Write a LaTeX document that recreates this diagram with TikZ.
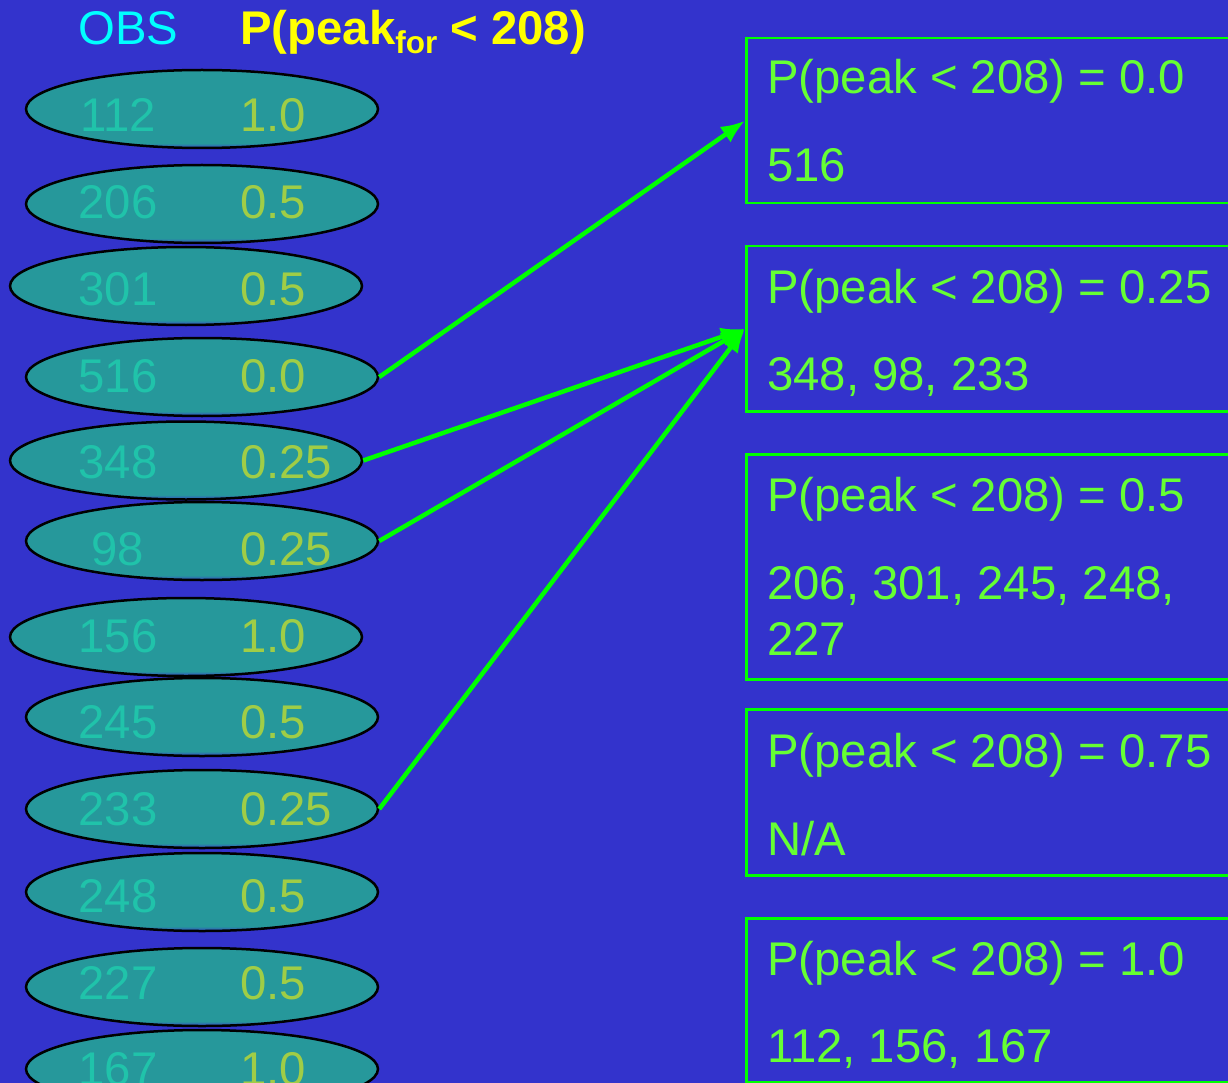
\documentclass[tikz,border=0pt]{standalone}
\usepackage{fontspec}
\setmainfont{Liberation Sans}
\usetikzlibrary{arrows.meta,shapes.geometric}

\definecolor{slide}{RGB}{51,51,204}
\definecolor{ovteal}{RGB}{38,152,155}
\definecolor{ovblue}{RGB}{52,70,200}
\definecolor{obsnum}{RGB}{32,195,170}
\definecolor{probnum}{RGB}{160,205,70}
\definecolor{boxline}{RGB}{0,255,0}
\definecolor{boxtext}{RGB}{102,255,51}
\definecolor{arrowgreen}{RGB}{0,255,0}
\definecolor{headyellow}{RGB}{255,255,0}
\definecolor{headcyan}{RGB}{0,255,255}

% oval fill: teal body with a thin bluish rim along the bottom
\pgfdeclareverticalshading{ovalfill}{100bp}{color(0bp)=(ovblue); color(25bp)=(ovblue); color(28bp)=(ovteal); color(100bp)=(ovteal)}

\tikzset{
  big/.style={font=\fontsize{47.3}{56}\selectfont, inner sep=0pt},
  oval/.style={ellipse, draw=black, line width=2.5pt, shading=ovalfill,
    minimum width=352pt, minimum height=78pt, inner sep=0pt},
  obsval/.style={big, text=obsnum, anchor=base},
  probval/.style={big, text=probnum, anchor=base west},
  binbox/.style={draw=boxline, line width=2.5pt, minimum width=520pt,
    anchor=north west, inner sep=0pt},
  bintext/.style={big, text=boxtext, anchor=base west},
  link/.style={draw=arrowgreen, line width=4.5pt,
    -{Latex[length=24pt,width=19pt]}}
}

\begin{document}
\begin{tikzpicture}[x=1pt,y=-1pt]
\useasboundingbox (0,0) rectangle (1228,1083);
\clip (0,0) rectangle (1228,1083);
\fill[slide] (0,0) rectangle (1228,1083);

% column headings
\node[big, text=headcyan, anchor=base west] (hobs) at (78,45) {OBS};
\node[big, text=headyellow, anchor=base west, font=\fontsize{47.3}{56}\selectfont\bfseries] (hprob) at (240,45)
  {P(peak\raisebox{-9pt}{\fontsize{31.5}{31}\selectfont for} < 208)};

% observation ovals
\node[oval] (e1)  at (202,109)  {};
\node[oval] (e2)  at (202,204)  {};
\node[oval] (e3)  at (186,286)  {};
\node[oval] (e4)  at (202,377)  {};
\node[oval] (e5)  at (186,460.5){};
\node[oval] (e6)  at (202,541)  {};
\node[oval] (e7)  at (186,637)  {};
\node[oval] (e8)  at (202,717)  {};
\node[oval] (e9)  at (202,809)  {};
\node[oval] (e10) at (202,892)  {};
\node[oval] (e11) at (202,987)  {};
\node[oval] (e12) at (202,1069) {};

% values inside the ovals
\foreach \i/\o/\p in {0/112/1.0, 1/206/0.5, 2/301/0.5, 3/516/0.0, 4/348/0.25, 5/98/0.25,
                      6/156/1.0, 7/245/0.5, 8/233/0.25, 9/248/0.5, 10/227/0.5, 11/167/1.0} {
  \node[obsval]  (o\i) at (118,132+86.7*\i) {\o};
  \node[probval] (p\i) at (240,132+86.7*\i) {\p};
}

% probability bins
\node[binbox, minimum height=165pt] (b1) at (745,37)  {};
\node[binbox, minimum height=165pt] (b2) at (745,245) {};
\node[binbox, minimum height=225pt] (b3) at (745,453) {};
\node[binbox, minimum height=166pt] (b4) at (745,708) {};
\node[binbox, minimum height=164pt] (b5) at (745,917) {};

\node[bintext] (t1a) at (767,94)   {P(peak < 208) = 0.0};
\node[bintext] (t1b) at (767,182)  {516};
\node[bintext] (t2a) at (767,303)  {P(peak < 208) = 0.25};
\node[bintext] (t2b) at (767,390)  {348, 98, 233};
\node[bintext] (t3a) at (767,511)  {P(peak < 208) = 0.5};
\node[bintext] (t3b) at (767,599)  {206, 301, 245, 248,};
\node[bintext] (t3c) at (767,655)  {227};
\node[bintext] (t4a) at (767,767)  {P(peak < 208) = 0.75};
\node[bintext] (t4b) at (767,855)  {N/A};
\node[bintext] (t5a) at (767,975)  {P(peak < 208) = 1.0};
\node[bintext] (t5b) at (767,1062) {112, 156, 167};

% assignments
\draw[link] (e4.east) -- (b1.west);
\draw[link] (e5.east) -- (b2.west);
\draw[link] (e6.east) -- (b2.west);
\draw[link] (e9.east) -- (b2.west);
\end{tikzpicture}
\end{document}
